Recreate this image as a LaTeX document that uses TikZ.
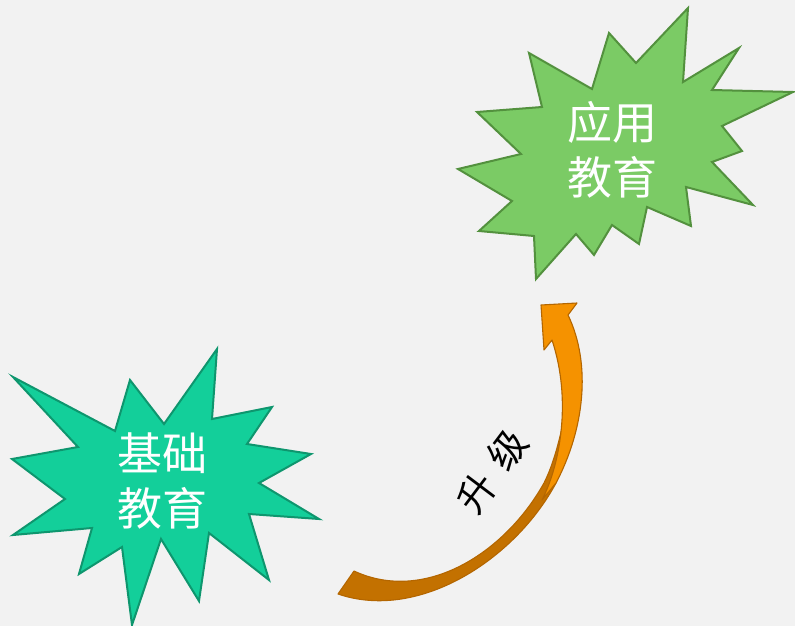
\documentclass[tikz,border=0pt]{standalone}
\usepackage{fontspec}
\newfontfamily\cjk{Noto Sans CJK SC}
\definecolor{bgc}{HTML}{F2F2F2}
\definecolor{tealfill}{RGB}{19,207,154}
\definecolor{tealline}{RGB}{14,150,110}
\definecolor{greenfill}{RGB}{123,203,101}
\definecolor{greenline}{RGB}{83,145,62}
\definecolor{orangefill}{RGB}{245,146,0}
\definecolor{darkorange}{RGB}{195,113,0}
\definecolor{arrowline}{RGB}{180,102,0}
\begin{document}
\begin{tikzpicture}[x=1pt,y=-1pt,
  starA/.style={fill=tealfill,draw=tealline,line width=2pt,line join=miter},
  starB/.style={fill=greenfill,draw=greenline,line width=2pt,line join=miter},
  startext/.style={align=center,text=white,inner sep=0pt,font=\cjk\fontsize{45}{55}\selectfont},
  arrowpart/.style={draw=arrowline,line width=1.1pt,line join=round},
  uptext/.style={rotate=53,inner sep=0pt,font=\cjk\fontsize{38}{40}\selectfont}]
\fill[bgc] (0,0) rectangle (795,626);
\useasboundingbox (0,0) rectangle (795,626);
% star 1
\draw[starA] (13,377) -- (78,447) -- (12,459) -- (65,499) -- (13,535) -- (92,528) -- (79,574) -- (122,547)
 -- (132,625) -- (161,539) -- (199,601) -- (209,533) -- (269,580) -- (249,514) -- (319,519) -- (259,483)
 -- (311,454) -- (247,444) -- (272,407) -- (212,419) -- (217,349) -- (164,424) -- (130,380) -- (115,431) -- cycle;
\node[startext] (basic) at (162,481) {基础\\教育};
% star 2
\draw[starB] (688,8) -- (683,82) -- (739,48) -- (712,90) -- (793,92) -- (722,126) -- (742,151) -- (712,162)
 -- (753,205) -- (686,187) -- (691,226) -- (647,207) -- (639,244) -- (612,225) -- (594,255) -- (576,234)
 -- (536,279) -- (534,236) -- (479,231) -- (512,201) -- (458,169) -- (521,154) -- (477,112) -- (542,107)
 -- (529,53) -- (592,89) -- (609,33) -- (636,63) -- cycle;
\node[startext] (applied) at (612,150) {应用\\教育};
% curved arrow: dark back face
\draw[arrowpart,fill=darkorange] (354,571) .. controls (425,604) and (505,553) .. (544,483)
 .. controls (553,465) and (558,445) .. (562,428) -- (568,445) -- (556,483)
 .. controls (516,558) and (420,622) .. (338,594) -- cycle;
% curved arrow: orange front face with head
\draw[arrowpart,fill=orangefill] (541,305) -- (577,303) -- (568,315)
 .. controls (592,365) and (584,430) .. (556,483) -- (542,500)
 .. controls (560,465) and (572,400) .. (552,340) -- (544,350) -- cycle;
\node[uptext] (up1) at (477,493) {升};
\node[uptext] (up2) at (507,450) {级};
\end{tikzpicture}
\end{document}
